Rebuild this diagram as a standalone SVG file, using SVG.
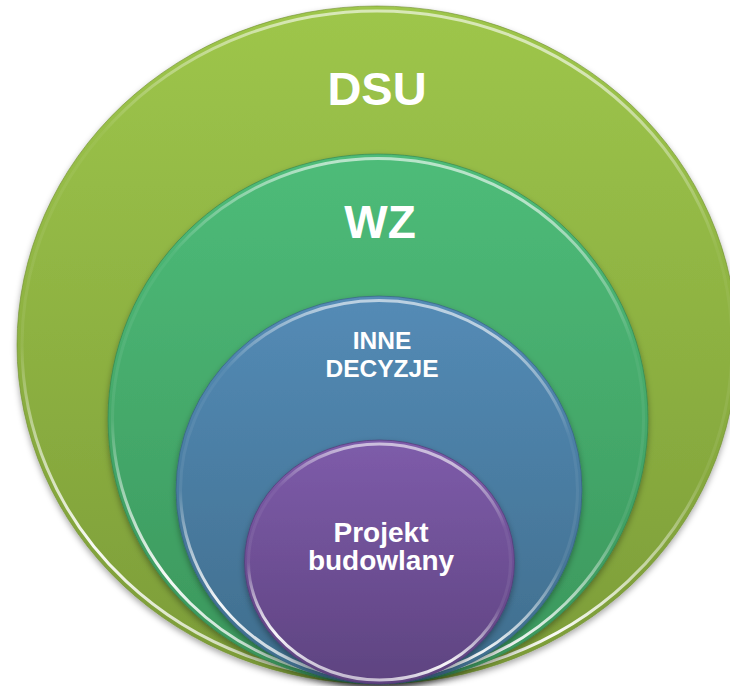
<svg xmlns="http://www.w3.org/2000/svg" width="730" height="686" viewBox="0 0 730 686">
  <defs>
    <linearGradient id="gOuter" x1="0" y1="0" x2="0" y2="1">
      <stop offset="0" stop-color="#9EC64B"/>
      <stop offset="1" stop-color="#7C9C38"/>
    </linearGradient>
    <linearGradient id="gWz" x1="0" y1="0" x2="0" y2="1">
      <stop offset="0" stop-color="#4EBC79"/>
      <stop offset="1" stop-color="#3B965C"/>
    </linearGradient>
    <linearGradient id="gBlue" x1="0" y1="0" x2="0" y2="1">
      <stop offset="0" stop-color="#548BB6"/>
      <stop offset="1" stop-color="#3F6D8C"/>
    </linearGradient>
    <linearGradient id="gPurple" x1="0" y1="0" x2="0" y2="1">
      <stop offset="0" stop-color="#7E5CAA"/>
      <stop offset="1" stop-color="#5E4380"/>
    </linearGradient>
    <linearGradient id="rim" x1="0.35" y1="0" x2="0.15" y2="1">
      <stop offset="0" stop-color="#ffffff" stop-opacity="0.6"/>
      <stop offset="0.22" stop-color="#ffffff" stop-opacity="0.05"/>
      <stop offset="0.55" stop-color="#ffffff" stop-opacity="0.08"/>
      <stop offset="0.82" stop-color="#ffffff" stop-opacity="0.95"/>
      <stop offset="1" stop-color="#ffffff" stop-opacity="0.5"/>
    </linearGradient>
    <filter id="shadow" x="-10%" y="-10%" width="120%" height="125%">
      <feDropShadow dx="0" dy="3" stdDeviation="3" flood-color="#000" flood-opacity="0.35"/>
    </filter>
  </defs>
  <style>
    .lbl { font-family: "Liberation Sans", Arial, sans-serif; font-weight: bold; fill: #ffffff; text-anchor: middle; }
    .rim { fill: none; stroke: url(#rim); stroke-width: 3; }
    .edge { stroke-width: 1; stroke-opacity: 0.6; }
  </style>
  <rect width="730" height="686" fill="#ffffff"/>

  <g id="dsu">
    <ellipse cx="377" cy="345" rx="360" ry="339" fill="url(#gOuter)" stroke="#6E8C2E" class="edge" filter="url(#shadow)"/>
    <ellipse class="rim" cx="377" cy="345" rx="355" ry="334"/>
    <text class="lbl" x="377" y="105" font-size="47">DSU</text>
  </g>

  <g id="wz">
    <ellipse cx="378" cy="419" rx="270" ry="265" fill="url(#gWz)" stroke="#2F8050" class="edge" filter="url(#shadow)"/>
    <ellipse class="rim" cx="378" cy="419" rx="265.5" ry="260.5"/>
    <text class="lbl" x="380" y="238" font-size="46">WZ</text>
  </g>

  <g id="inne-decyzje">
    <ellipse cx="379" cy="490" rx="203" ry="194" fill="url(#gBlue)" stroke="#345D7A" class="edge" filter="url(#shadow)"/>
    <ellipse class="rim" cx="379" cy="490" rx="198.5" ry="189.5"/>
    <text class="lbl" font-size="24.5"><tspan x="382" y="349">INNE</tspan><tspan x="382" y="377">DECYZJE</tspan></text>
  </g>

  <g id="projekt-budowlany">
    <ellipse cx="379.5" cy="562" rx="135" ry="122" fill="url(#gPurple)" stroke="#4E3670" class="edge" filter="url(#shadow)"/>
    <ellipse class="rim" cx="379.5" cy="562" rx="131" ry="118"/>
    <text class="lbl" font-size="28"><tspan x="381" y="542">Projekt</tspan><tspan x="381" y="570">budowlany</tspan></text>
  </g>
</svg>
